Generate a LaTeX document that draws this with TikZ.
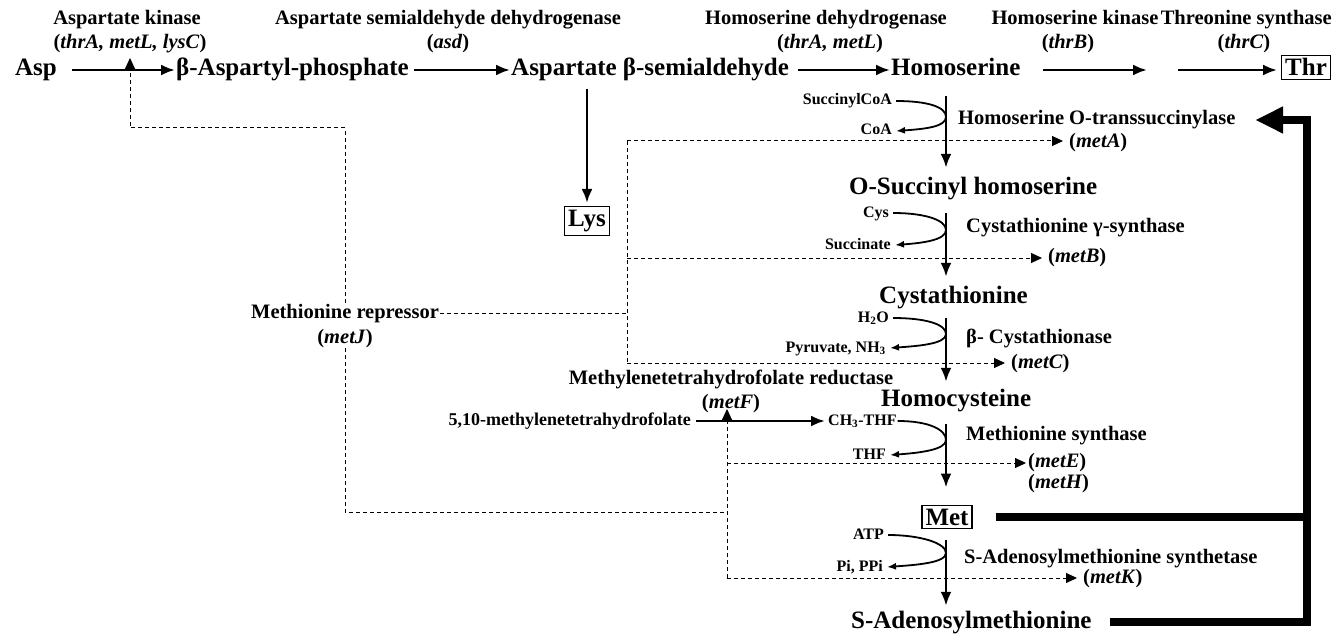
\documentclass[tikz,border=0pt]{standalone}
\usepackage{fontspec}
\setmainfont{Liberation Serif}
\usetikzlibrary{arrows.meta}
\begin{document}
\begin{tikzpicture}[x=1pt,y=1pt,yscale=-1,
  cpd/.style={font=\fontsize{25}{27}\selectfont\bfseries,inner sep=1pt,text height=17pt,text depth=5pt},
  enz/.style={font=\fontsize{20.5}{22}\selectfont\bfseries,inner sep=1pt,text height=14pt,text depth=4pt},
  sub/.style={font=\fontsize{16}{18}\selectfont\bfseries,inner sep=1pt,text height=11pt,text depth=3pt},
  endbox/.style={font=\fontsize{25}{27}\selectfont\bfseries,draw,line width=1.3pt,inner sep=3.5pt},
  rxn/.style={line width=2.6pt,-{Latex[length=14pt,width=11pt]}},
  side/.style={line width=1.8pt,-{Latex[length=9pt,width=7pt]}},
  reg/.style={line width=1pt,dash pattern=on 4pt off 3pt},
  regto/.style={reg,-{Triangle[length=11pt,width=10pt]}},
  fb/.style={line width=8pt,line join=miter}]
\useasboundingbox (0,0) rectangle (1335,639);

\node[cpd,anchor=west] (asp) at (14,70) {Asp};
\node[cpd,anchor=west] (bap) at (175,70) {β-Aspartyl-phosphate};
\node[cpd,anchor=west] (asa) at (510,70) {Aspartate β-semialdehyde};
\node[cpd,anchor=west] (hse) at (890,70) {Homoserine};
\node[endbox,anchor=base east] (thr) at (1331,76) {Thr};
\node[endbox] (lys) at (587,221) {Lys};

\node[enz] (ak) at (127,20) {Aspartate kinase};
\node[enz] (akg) at (130,44) {(\textit{thrA, metL, lysC})};
\node[enz] (asd) at (448,20) {Aspartate semialdehyde dehydrogenase};
\node[enz] (asdg) at (448,44) {(\textit{asd})};
\node[enz] (hdh) at (826,20) {Homoserine dehydrogenase};
\node[enz] (hdhg) at (830,44) {(\textit{thrA, metL})};
\node[enz,anchor=east] (ts) at (1333,20) {Threonine synthase};
\node[enz,anchor=east] (hk) at (ts.west) {Homoserine kinase};
\node[enz] (hkg) at (1068,44) {(\textit{thrB})};
\node[enz] (tsg) at (1244,44) {(\textit{thrC})};

\draw[rxn] ([xshift=14pt]asp.east) -- (bap.west);
\draw[rxn] ([xshift=4pt]bap.east) -- (asa.west);
\draw[rxn] ([xshift=8pt]asa.east) -- (hse.west);
\coordinate (hkA) at (1043,70);
\coordinate (hkB) at (1147,70);
\draw[rxn] (hkA) -- (hkB);
\coordinate (tsA) at (1178,70);
\draw[rxn,shorten >=4pt] (tsA) -- (tsA -| thr.west);
\coordinate (lysA) at (587,89);
\draw[rxn,shorten >=3pt] (lysA) -- (lys.north);

\coordinate (col) at (946,0);
\node[cpd,anchor=west] (osh) at (848,188) {O-Succinyl homoserine};
\node[cpd,anchor=west] (cth) at (878,297) {Cystathionine};
\node[cpd,anchor=west] (hcy) at (880,400) {Homocysteine};
\node[endbox] (met) at (947,517) {Met};
\node[cpd,anchor=west] (sam) at (850,622) {S-Adenosylmethionine};

\draw[rxn,shorten <=14pt,shorten >=8pt] (hse.south -| col) -- (osh.north -| col);
\draw[rxn,shorten <=13pt,shorten >=8pt] (osh.south -| col) -- (cth.north -| col);
\draw[rxn,shorten <=9pt,shorten >=6pt] (cth.south -| col) -- (hcy.north -| col);
\draw[rxn,shorten <=12pt,shorten >=17pt] (hcy.south -| col) -- (met.north -| col);
\draw[rxn,shorten <=11pt,shorten >=4pt] (met.south -| col) -- (sam.north -| col);

\node[sub,anchor=east] (sca) at (893,101) {SuccinylCoA};
\node[sub,anchor=east] (coa) at (893,131) {CoA};
\draw[side] ([xshift=3pt]sca.east) .. controls +(32,0) and +(0,-10) .. (946,117) .. controls +(0,10) and +(28,-2) .. ([xshift=3pt]coa.east);
\node[sub,anchor=east] (cys) at (890,213) {Cys};
\node[sub,anchor=east] (suc) at (892,245) {Succinate};
\draw[side] ([xshift=3pt]cys.east) .. controls +(32,0) and +(0,-10) .. (946,230) .. controls +(0,10) and +(28,-2) .. ([xshift=3pt]suc.east);
\node[sub,anchor=east] (hoh) at (890,318) {H\textsubscript{2}O};
\node[sub,anchor=east] (pyr) at (887,348) {Pyruvate, NH\textsubscript{3}};
\draw[side] ([xshift=3pt]hoh.east) .. controls +(32,0) and +(0,-10) .. (946,334) .. controls +(0,10) and +(28,-2) .. ([xshift=3pt]pyr.east);
\node[sub,anchor=west] (ch3) at (827,421) {CH\textsubscript{3}-THF};
\node[sub,anchor=east] (thf) at (887,455) {THF};
\draw[side] (ch3.east) .. controls +(32,0) and +(0,-10) .. (946,440) .. controls +(0,10) and +(28,-2) .. ([xshift=3pt]thf.east);
\node[sub,anchor=east] (atp) at (885,535) {ATP};
\node[sub,anchor=east] (ppi) at (884,567) {Pi, PPi};
\draw[side] ([xshift=3pt]atp.east) .. controls +(32,0) and +(0,-10) .. (946,553) .. controls +(0,10) and +(28,-2) .. ([xshift=3pt]ppi.east);

\node[enz,anchor=west] (mA) at (957,120) {Homoserine O-transsuccinylase};
\node[enz,anchor=west] (gA) at (1068,143) {(\textit{metA})};
\node[enz,anchor=west] (mB) at (965,228) {Cystathionine γ-synthase};
\node[enz,anchor=west] (gB) at (1047,257) {(\textit{metB})};
\node[enz,anchor=west] (mC) at (965,338) {β- Cystathionase};
\node[enz,anchor=west] (gC) at (1010,363) {(\textit{metC})};
\node[enz,anchor=west] (mE) at (965,435) {Methionine synthase};
\node[enz,anchor=west] (gE) at (1027,462) {(\textit{metE})};
\node[enz,anchor=west] (gH) at (1027,483) {(\textit{metH})};
\node[enz,anchor=west] (mK) at (963,558) {S-Adenosylmethionine synthetase};
\node[enz,anchor=west] (gK) at (1082,578) {(\textit{metK})};

\node[enz] (mF) at (731,379) {Methylenetetrahydrofolate reductase};
\node[enz] (gF) at (731,403) {(\textit{metF})};
\node[sub,font=\fontsize{18}{20}\selectfont\bfseries,anchor=east] (mthf) at (692,421) {5,10-methylenetetrahydrofolate};
\draw[rxn,shorten >=2pt] ([xshift=4pt]mthf.east) -- (ch3.west);

\node[enz] (rep) at (345,313) {Methionine repressor};
\node[enz] (repg) at (345,338) {(\textit{metJ})};

\coordinate (akt) at (130,58);
\draw[regto] (rep.north) |- (130,128) -- (akt);
\coordinate (jF) at (727,512);
\draw[reg] (repg.south) |- (jF);
\coordinate (jA) at (627,141);
\coordinate (jB) at (627,258);
\coordinate (jC) at (627,363);
\draw[reg] (rep.east) -- (rep.east -| jC);
\draw[reg] (jA) -- (jC);
\draw[regto,shorten >=5pt] (jA) -- (jA -| gA.west);
\draw[regto,shorten >=5pt] (jB) -- (jB -| gB.west);
\draw[regto,shorten >=5pt] (jC) -- (jC -| gC.west);
\coordinate (ftip) at (727,409);
\coordinate (jE) at (727,463);
\coordinate (jK) at (727,578);
\draw[regto] (jK) -- (ftip);
\draw[regto,shorten >=1pt] (jE) -- (jE -| gE.west);
\draw[regto,shorten >=5pt] (jK) -- (jK -| gK.west);

\coordinate (fbV) at (1311,0);
\draw[fb,-{Triangle[length=28pt,width=25pt]}] ([xshift=17pt]sam.east) -| (1307,120) -- (1255,120);
\draw[fb] ([xshift=23pt]met.east) -- (met.east -| fbV);
\end{tikzpicture}
\end{document}
